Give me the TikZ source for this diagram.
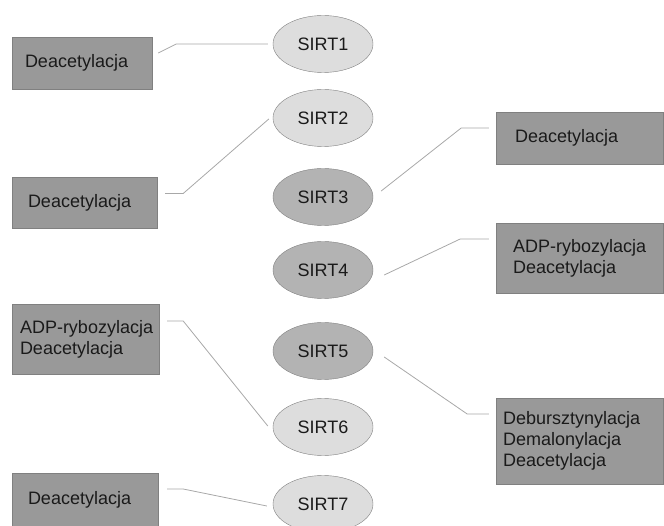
\documentclass[tikz,border=0pt]{standalone}
\usepackage{fontspec}
\setmainfont{Liberation Sans}
\usepackage{xcolor}
\usetikzlibrary{shapes.geometric}

\definecolor{sirtlight}{HTML}{DDDDDD}
\definecolor{sirtmid}{HTML}{B3B3B3}
\definecolor{funcfill}{HTML}{999999}
\definecolor{edgegray}{HTML}{808080}
\definecolor{linkgray}{HTML}{A8A8A8}
\definecolor{textdark}{HTML}{1A1A1A}

\begin{document}
\begin{tikzpicture}[
    x=1pt, y=-1pt,
    font=\fontsize{18}{21}\selectfont, text=textdark,
    sirt/.style={ellipse, draw=edgegray, fill=sirtlight, minimum width=100pt, minimum height=57pt, inner sep=0pt},
    sirtmito/.style={sirt, fill=sirtmid},
    func/.style={rectangle, draw=edgegray, fill=funcfill, align=left, inner ysep=0pt},
    link/.style={draw=linkgray, line width=0.8pt}
]

% Frame
\clip (0,0) rectangle (664,526);

% Sirtuins
\node[sirt] (s1) at (323,44) {SIRT1};
\node[sirt] (s2) at (323,118) {SIRT2};
\node[sirtmito] (s3) at (323,197) {SIRT3};
\node[sirtmito] (s4) at (323,270) {SIRT4};
\node[sirtmito] (s5) at (323,351) {SIRT5};
\node[sirt] (s6) at (323,427) {SIRT6};
\node[sirt] (s7) at (323,504) {SIRT7};

% Activities, left side
\node[func, text width=114pt, inner xsep=13pt, minimum height=52pt] (f1) at (82,63) {Deacetylacja};
\node[func, text width=113pt, inner xsep=16pt, minimum height=51pt] (f2) at (84.5,202.5) {Deacetylacja};
\node[func, text width=131pt, inner xsep=8pt, minimum height=70pt] (f6) at (85.5,339) {\mbox{ADP-rybozylacja}\\Deacetylacja};
\node[func, text width=114pt, inner xsep=16pt, minimum height=54pt] (f7) at (85,500) {Deacetylacja};

% Activities, right side
\node[func, text width=129pt, inner xsep=19pt, minimum height=52pt] (f3) at (579.5,138) {Deacetylacja};
\node[func, text width=133pt, inner xsep=17pt, minimum height=70pt] (f4) at (579.5,258) {\mbox{ADP-rybozylacja}\\Deacetylacja};
\node[func, text width=153pt, inner xsep=7pt, minimum height=86pt] (f5) at (579.5,441) {Debursztynylacja\\Demalonylacja\\Deacetylacja};

% Links
\draw[link] ([shift={(6,-10)}]f1.east) -- ++(18,-9) -- ([shift={(-5,0)}]s1.west);
\draw[link] ([shift={(8,-9)}]f2.east) -- ++(18,0) -- ([shift={(-4,1)}]s2.west);
\draw[link] ([shift={(8,-6)}]s3.east) -- ++(80,-63) -- ([shift={(-7,-10)}]f3.west);
\draw[link] ([shift={(11,5)}]s4.east) -- ++(76,-36) -- ([shift={(-7,-19)}]f4.west);
\draw[link] ([shift={(11,6)}]s5.east) -- ++(83,57) -- ([shift={(-7,-27)}]f5.west);
\draw[link] ([shift={(8,-18)}]f6.east) -- ++(16,0) -- ([shift={(-5,-1)}]s6.west);
\draw[link] ([shift={(9,-11)}]f7.east) -- ++(16,0) -- ([shift={(-6,2)}]s7.west);

\end{tikzpicture}
\end{document}
